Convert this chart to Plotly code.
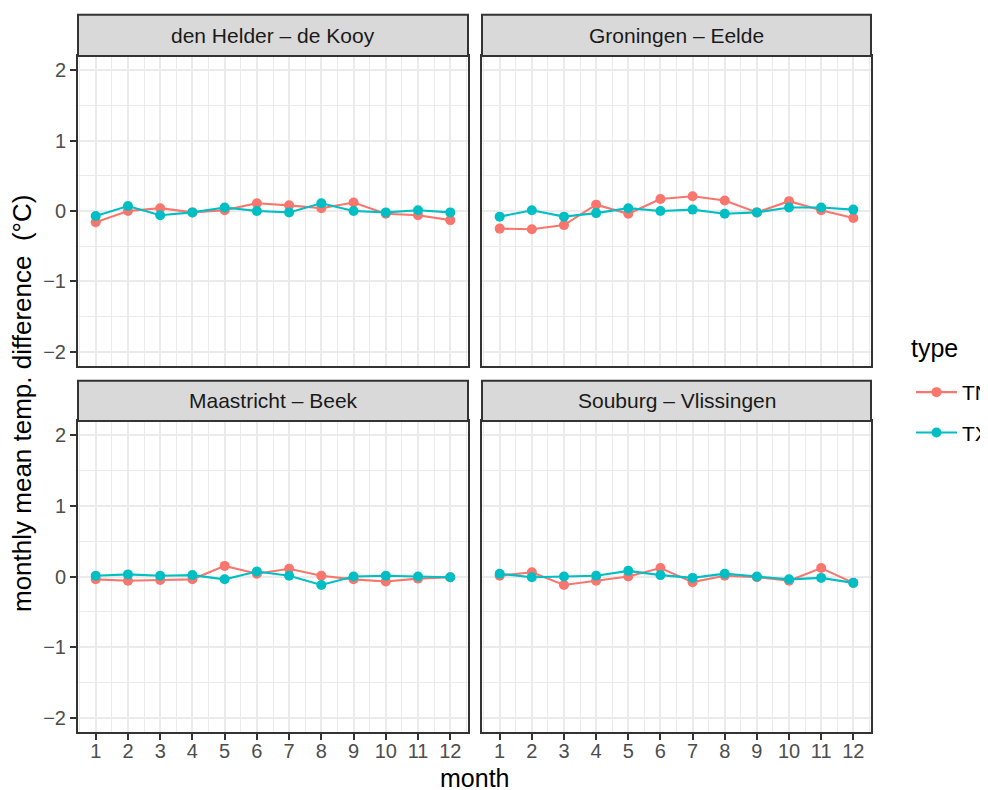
import plotly.graph_objects as go

months = list(range(1, 13))
stations = ["den Helder – de Kooy", "Groningen – Eelde", "Maastricht – Beek", "Souburg – Vlissingen"]
types = ["TN", "TX"]

helder_TN = [-0.16, 0.00, 0.04, -0.02, 0.01, 0.11, 0.08, 0.04, 0.12, -0.04, -0.06, -0.13]
helder_TX = [-0.07, 0.07, -0.06, -0.02, 0.05, 0.00, -0.02, 0.11, 0.00, -0.02, 0.01, -0.02]
groningen_TN = [-0.25, -0.26, -0.20, 0.09, -0.04, 0.17, 0.21, 0.15, -0.02, 0.14, 0.01, -0.10]
groningen_TX = [-0.08, 0.01, -0.08, -0.03, 0.04, 0.00, 0.02, -0.04, -0.02, 0.05, 0.05, 0.02]
maastricht_TN = [-0.04, -0.06, -0.05, -0.04, 0.15, 0.04, 0.11, 0.01, -0.04, -0.07, -0.03, -0.01]
maastricht_TX = [0.01, 0.03, 0.01, 0.02, -0.04, 0.07, 0.01, -0.12, 0.00, 0.01, 0.00, -0.01]
souburg_TN = [0.01, 0.06, -0.12, -0.06, 0.00, 0.12, -0.08, 0.01, -0.01, -0.06, 0.12, -0.09]
souburg_TX = [0.04, -0.01, 0.00, 0.01, 0.08, 0.02, -0.02, 0.04, 0.00, -0.04, -0.02, -0.09]

y_ticks = [-2, -1, 0, 1, 2]
y_ticklabels = ["−2", "−1", "0", "1", "2"]

series = {
    stations[0]: {"TN": helder_TN, "TX": helder_TX},
    stations[1]: {"TN": groningen_TN, "TX": groningen_TX},
    stations[2]: {"TN": maastricht_TN, "TX": maastricht_TX},
    stations[3]: {"TN": souburg_TN, "TX": souburg_TX},
}
colors = {"TN": "#F8766D", "TX": "#00BFC4"}

FONT = "Liberation Sans, Arial, Helvetica, sans-serif"
# The page body has an 8px default margin, so the figure is drawn 8px in from the
# top-left corner. The figure is a little wider than the window so the legend
# does not push the plot margins (its labels get clipped by the window edge,
# as in the reference).
OFF = 8
EXTRA = 20
W, H = 988 - OFF + EXTRA, 790 - OFF
ML, MR, MT, MB = 78 - OFF, 117 + EXTRA, 56 - OFF, 58
PW = W - ML - MR
PH = H - MT - MB

def px_x(p):
    return (p - OFF - ML) / PW

def px_y(p):
    return (H - MB - (p - OFF)) / PH

xdom = [[0, px_x(468)], [px_x(482), 1]]
ydom = [[px_y(366), 1], [0, px_y(421)]]

fig = go.Figure()
layout = {}
shapes = []
annotations = []
GRID = "#EBEBEB"
for i, st in enumerate(stations):
    r, c = divmod(i, 2)
    n = i + 1
    xa = "x" if n == 1 else f"x{n}"
    ya = "y" if n == 1 else f"y{n}"
    for t in types:
        fig.add_trace(go.Scatter(
            x=months, y=series[st][t], mode="lines+markers", name=t,
            legendgroup=t, showlegend=(i == 0),
            line=dict(color=colors[t], width=2.1),
            marker=dict(color=colors[t], size=10),
            xaxis=xa, yaxis=ya,
        ))
    bottom = r == 1
    left = c == 0
    layout["xaxis" if n == 1 else f"xaxis{n}"] = dict(
        domain=xdom[c], anchor=ya, range=[0.45, 12.55],
        tickvals=months, ticktext=[str(m) for m in months],
        showticklabels=bottom, ticks="outside" if bottom else "",
        ticklen=6, tickwidth=2, tickcolor="#333333", ticklabelstandoff=-6,
        tickfont=dict(size=20, color="#4D4D4D", family=FONT),
        showgrid=True, gridcolor=GRID, gridwidth=2.1,
        minor=dict(tickvals=[m - 0.5 for m in months] + [12.5], showgrid=True, gridcolor=GRID, gridwidth=1.05),
        showline=True, mirror=True, linecolor="#333333", linewidth=2,
        zeroline=False, fixedrange=True,
    )
    layout["yaxis" if n == 1 else f"yaxis{n}"] = dict(
        domain=ydom[r], anchor=xa, range=[-2.2, 2.2],
        tickvals=y_ticks, ticktext=y_ticklabels,
        showticklabels=left, ticks="outside" if left else "",
        ticklen=6, tickwidth=2, tickcolor="#333333",
        tickfont=dict(size=20, color="#4D4D4D", family=FONT),
        showgrid=True, gridcolor=GRID, gridwidth=2.1,
        minor=dict(tickvals=[-1.5, -0.5, 0.5, 1.5], showgrid=True, gridcolor=GRID, gridwidth=1.05),
        showline=True, mirror=True, linecolor="#333333", linewidth=2,
        zeroline=False, fixedrange=True,
    )
    strip_top = px_y(14.7) if r == 0 else px_y(380.7)
    strip_bot = ydom[r][1]
    shapes.append(dict(type="rect", xref="paper", yref="paper",
                       x0=xdom[c][0], x1=xdom[c][1], y0=strip_bot, y1=strip_top,
                       fillcolor="#D9D9D9", line=dict(color="#333333", width=2), layer="above"))
    annotations.append(dict(text=st, xref="paper", yref="paper",
                            x=(xdom[c][0] + xdom[c][1]) / 2, y=(strip_top + strip_bot) / 2,
                            xanchor="center", yanchor="middle", showarrow=False,
                            font=dict(size=21, color="#1A1A1A", family=FONT)))

annotations.append(dict(text="month", xref="paper", yref="paper",
                        x=0.5, y=px_y(778), xanchor="center", yanchor="middle",
                        showarrow=False, font=dict(size=25, color="black", family=FONT)))
annotations.append(dict(text="monthly mean temp. difference  (°C)", xref="paper", yref="paper",
                        x=px_x(22), y=px_y(404), xanchor="center", yanchor="middle", textangle=-90,
                        showarrow=False, font=dict(size=26, color="black", family=FONT)))
annotations.append(dict(text="type", xref="paper", yref="paper",
                        x=px_x(909), y=px_y(348), xanchor="left", yanchor="middle",
                        showarrow=False, font=dict(size=25, color="black", family=FONT)))

fig.update_layout(
    width=W, height=H,
    margin=dict(l=ML, r=MR, t=MT, b=MB),
    paper_bgcolor="white", plot_bgcolor="white",
    font=dict(family=FONT),
    shapes=shapes, annotations=annotations,
    showlegend=True,
    legend=dict(
        font=dict(size=21, color="black", family=FONT),
        x=px_x(911), y=px_y(372), xanchor="left", yanchor="top",
        tracegroupgap=10, itemwidth=41, bgcolor="rgba(0,0,0,0)",
    ),
    **layout,
)

fig.write_html("out.html")
